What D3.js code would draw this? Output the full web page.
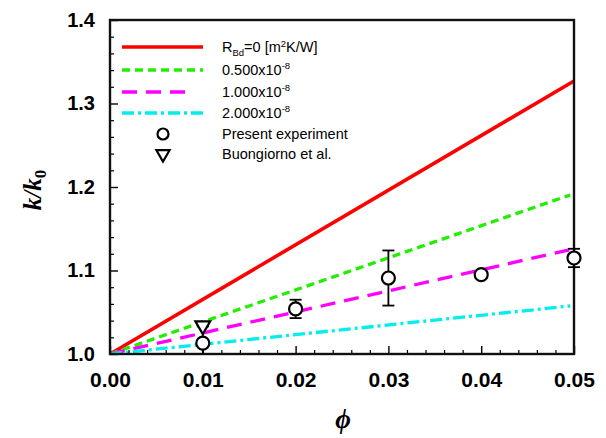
<!DOCTYPE html>
<html>
<head>
<meta charset="utf-8">
<script src="https://cdn.jsdelivr.net/npm/d3@7"></script>
<style>
  body { margin: 0; background: #fff; }
  text { font-family: "Liberation Sans", Arial, sans-serif; }
</style>
</head>
<body>
<div id="chart"></div>
<script>
// model lines: k/k0 at phi = 0 and phi = 0.05
let modelNames = ["0", "0.500", "1.000", "2.000"];
let modelEnds = [1.327, 1.192, 1.126, 1.058];
let modelColors = ["#ff0000", "#22ee00", "#ff00ff", "#00eeee"];
let modelDash = [null, "8,5", "15,9", "12,4,3,4"];

// measured data
let expPhi = [0.01, 0.02, 0.03, 0.04, 0.05];
let expK = [1.013, 1.054, 1.091, 1.095, 1.115];
let expErr = [0.02, 0.011, 0.033, 0.004, 0.011];
let buoPhi = [0.01];
let buoK = [1.034];

let xTicks = [0, 0.01, 0.02, 0.03, 0.04, 0.05];
let yTicks = [1.0, 1.1, 1.2, 1.3, 1.4];

let width = 606, height = 438;
let m = {left: 110, right: 32, top: 20, bottom: 84};

let svg = d3.select('#chart').append('svg')
	.attr('width', width)
	.attr('height', height);

let x = d3.scaleLinear().domain([0, 0.05]).range([m.left, width - m.right]);
let y = d3.scaleLinear().domain([1.0, 1.4]).range([height - m.bottom, m.top]);

svg.append('clipPath').attr('id', 'clip')
	.append('rect')
	.attr('x', m.left).attr('y', m.top)
	.attr('width', x(0.05) - m.left).attr('height', y(1.0) - m.top);

//model lines
let plot = svg.append('g').attr('clip-path', 'url(#clip)');
modelEnds.forEach((v, i) => {
	let xe = i == 0 ? 0.05 : 0.0496;
	plot.append('line')
		.attr('x1', x(0)).attr('y1', y(1.0))
		.attr('x2', x(xe)).attr('y2', y(1.0 + (v - 1.0) * xe / 0.05))
		.style('stroke', modelColors[i])
		.style('stroke-width', i == 0 ? 3.6 : 3.3)
		.style('stroke-dasharray', modelDash[i]);
});

//axes
let xAxis = d3.axisBottom(x).tickValues(xTicks).tickFormat(d3.format('.2f')).tickSizeInner(-8).tickSizeOuter(0).tickPadding(18);
let yAxis = d3.axisLeft(y).tickValues(yTicks).tickFormat(d3.format('.1f')).tickSizeInner(-8).tickSizeOuter(0).tickPadding(15);

let xMinor = d3.range(0, 0.0501, 0.002).filter(v => Math.abs(v * 100 - Math.round(v * 100)) > 1e-6);
let yMinor = d3.range(1.0, 1.4001, 0.02).filter(v => Math.abs(v * 10 - Math.round(v * 10)) > 1e-6);

svg.append('g')
	.attr('transform', 'translate(0,' + y(1.0) + ')')
	.call(d3.axisBottom(x).tickValues(xMinor).tickSize(-4).tickFormat(''))
	.call(g => g.select('.domain').remove())
	.selectAll('line').style('stroke-width', 1.2);
svg.append('g')
	.attr('transform', 'translate(' + m.left + ',0)')
	.call(d3.axisLeft(y).tickValues(yMinor).tickSize(-4).tickFormat(''))
	.call(g => g.select('.domain').remove())
	.selectAll('line').style('stroke-width', 1.2);

let gx = svg.append('g')
	.attr('transform', 'translate(0,' + y(1.0) + ')')
	.call(xAxis);
gx.selectAll('text').style('font-size', '21px').style('font-weight', 'bold').style('fill', 'black');
gx.selectAll('line').style('stroke-width', 1.4);

let gy = svg.append('g')
	.attr('transform', 'translate(' + m.left + ',0)')
	.call(yAxis);
gy.selectAll('text').style('font-size', '20px').style('font-weight', 'bold').style('fill', 'black');
gy.selectAll('line').style('stroke-width', 1.4);

//frame
svg.append('rect')
	.attr('x', m.left).attr('y', m.top)
	.attr('width', x(0.05) - m.left).attr('height', y(1.0) - m.top)
	.style('fill', 'none')
	.style('stroke', '#111')
	.style('stroke-width', 2.4);

//error bars (drawn over the frame, lower end stops at the axis)
expPhi.forEach((p, i) => {
	let g = svg.append('g').style('stroke', 'black').style('stroke-width', 1.8);
	let lo = Math.max(expK[i] - expErr[i], 1.0);
	let hi = expK[i] + expErr[i];
	g.append('line')
		.attr('x1', x(p)).attr('x2', x(p))
		.attr('y1', y(lo)).attr('y2', y(hi));
	[expK[i] - expErr[i], hi].filter(v => v >= 1.0).forEach(v => {
		g.append('line')
			.attr('x1', x(p) - 6).attr('x2', x(p) + 6)
			.attr('y1', y(v)).attr('y2', y(v));
	});
});

let tri = d3.symbol().type(d3.symbolTriangle).size(95);
svg.selectAll('path.buo')
	.data(buoPhi)
	.join('path')
	.classed('buo', true)
	.attr('d', tri)
	.attr('transform', (d, i) => 'translate(' + x(d) + ',' + y(buoK[i]) + ') rotate(180)')
	.style('fill', 'white')
	.style('stroke', 'black')
	.style('stroke-width', 2.2);

svg.selectAll('circle.exp')
	.data(expPhi)
	.join('circle')
	.classed('exp', true)
	.attr('cx', d => x(d))
	.attr('cy', (d, i) => y(expK[i]))
	.attr('r', 6.5)
	.style('fill', 'white')
	.style('stroke', 'black')
	.style('stroke-width', 2.2);

//axis titles
svg.append('text')
	.attr('transform', 'translate(' + 41 + ',' + 190 + ') rotate(-90)')
	.attr('text-anchor', 'middle')
	.style('font-family', '"Liberation Serif", "Times New Roman", serif')
	.style('font-style', 'italic')
	.style('font-weight', 'bold')
	.style('font-size', '25px')
	.html('k/k<tspan dy="5" font-size="17" font-style="normal">0</tspan>');

svg.append('text')
	.attr('x', 343).attr('y', 428)
	.attr('text-anchor', 'middle')
	.style('font-family', '"Liberation Serif", "Times New Roman", serif')
	.style('font-style', 'italic')
	.style('font-weight', 'bold')
	.style('font-size', '27px')
	.text('\u03d5');

//legend
let legendY = [47, 70, 92, 113, 134, 154];
let legend = svg.append('g');
modelNames.forEach((n, i) => {
	legend.append('line')
		.attr('x1', 122).attr('x2', i == 2 ? 194 : 203)
		.attr('y1', legendY[i]).attr('y2', legendY[i])
		.style('stroke', modelColors[i])
		.style('stroke-width', 3.3)
		.style('stroke-dasharray', modelDash[i]);
	let t = legend.append('text')
		.attr('x', 222).attr('y', legendY[i] + 5)
		.style('font-size', '14.5px');
	if (i == 0) {
		t.append('tspan').text('R');
		t.append('tspan').attr('dy', 4).style('font-size', '9.5px').text('Bd');
		t.append('tspan').attr('dy', -4).text('=0 [m');
		t.append('tspan').attr('dy', -5).style('font-size', '9.5px').text('2');
		t.append('tspan').attr('dy', 5).text('K/W]');
	} else {
		t.append('tspan').text(n + 'x10');
		t.append('tspan').attr('dy', -6).style('font-size', '9.5px').text('-8');
	}
});
legend.append('circle')
	.attr('cx', 163).attr('cy', legendY[4]).attr('r', 5.5)
	.style('fill', 'white').style('stroke', 'black').style('stroke-width', 2.2);
legend.append('path')
	.attr('d', d3.symbol().type(d3.symbolTriangle).size(75))
	.attr('transform', 'translate(163,' + legendY[5] + ') rotate(180)')
	.style('fill', 'white').style('stroke', 'black').style('stroke-width', 2.2);
legend.append('text').attr('x', 222).attr('y', legendY[4] + 5).style('font-size', '14.5px').text('Present experiment');
legend.append('text').attr('x', 222).attr('y', legendY[5] + 5).style('font-size', '14.5px').text('Buongiorno et al.');
</script>
</body>
</html>
